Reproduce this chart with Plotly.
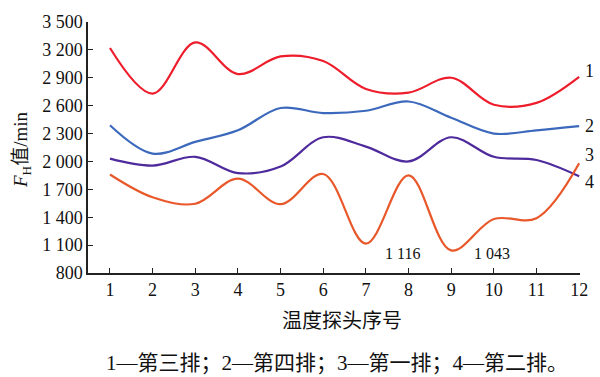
import plotly.graph_objects as go

probe = list(range(1, 13))
row3_s1 = [3220, 2730, 3280, 2940, 3130, 3080, 2780, 2740, 2900, 2610, 2630, 2910]
row4_s2 = [2390, 2085, 2210, 2335, 2575, 2520, 2545, 2645, 2470, 2300, 2335, 2380]
row1_s3 = [2030, 1955, 2050, 1875, 1945, 2260, 2160, 2000, 2260, 2050, 2015, 1840]
row2_s4 = [1860, 1615, 1545, 1815, 1540, 1865, 1116, 1850, 1043, 1380, 1390, 1980]

ytick_vals = [800, 1100, 1400, 1700, 2000, 2300, 2600, 2900, 3200, 3500]
ytick_text = ["800", "1 100", "1 400", "1 700", "2 000", "2 300", "2 600", "2 900", "3 200", "3 500"]

series = [
    (row3_s1, "#EE1D2B", "1"),
    (row4_s2, "#3C69BC", "2"),
    (row1_s3, "#4E2A9C", "3"),
    (row2_s4, "#E8582A", "4"),
]

FONT = "Liberation Serif, Times New Roman, Noto Sans CJK SC, serif"
CJK = "Liberation Serif, Noto Sans CJK SC, serif"

fig = go.Figure()
for vals, col, name in series:
    fig.add_trace(go.Scatter(x=probe, y=vals, mode="lines", name=name,
                             line=dict(color=col, width=2.2, shape="spline", smoothing=1.0),
                             showlegend=False, hoverinfo="skip"))

label_y = {"1": 2975, "2": 2380, "3": 2070, "4": 1780}
for name, yv in label_y.items():
    fig.add_annotation(xref="paper", x=1.019, y=yv, text=name, showarrow=False,
                       xanchor="center", yanchor="middle",
                       font=dict(family=FONT, size=18, color="#111"))

fig.add_annotation(x=7.87, y=1012, text="1 116", showarrow=False, yanchor="middle",
                   font=dict(family=FONT, size=16, color="#111"))
fig.add_annotation(x=9.95, y=1012, text="1 043", showarrow=False, yanchor="middle",
                   font=dict(family=FONT, size=16, color="#111"))

fig.add_annotation(xref="paper", yref="paper", x=0.516, y=-0.19, text="温度探头序号",
                   xanchor="center", yanchor="middle",
                   showarrow=False, font=dict(family=CJK, size=20, color="#111"))
fig.add_annotation(xref="paper", yref="paper", x=0.507, y=-0.357,
                   text="1—第三排；2—第四排；3—第一排；4—第二排。",
                   xanchor="center", yanchor="middle",
                   showarrow=False, font=dict(family=CJK, size=21, color="#111"))
fig.add_annotation(xref="paper", yref="paper", x=-0.134, y=0.49, textangle=-90,
                   text="<i>F</i><sub>H</sub>值/min", xanchor="center", yanchor="middle",
                   showarrow=False, font=dict(family=CJK, size=19, color="#111"))

fig.update_layout(
    width=600, height=377,
    margin=dict(l=88, r=20, t=15, b=104),
    paper_bgcolor="white", plot_bgcolor="white",
    font=dict(family=FONT, size=18, color="#111"),
    xaxis=dict(range=[0.485, 12.02], tickvals=probe, ticks="inside", ticklen=5,
               showline=True, linecolor="#222", linewidth=1.5, tickcolor="#222",
               showgrid=False, zeroline=False, tickfont=dict(size=18)),
    yaxis=dict(range=[800, 3500], tickvals=ytick_vals, ticktext=ytick_text,
               ticks="inside", ticklen=5, showline=True, linecolor="#222", linewidth=1.5,
               tickcolor="#222", showgrid=False, zeroline=False, tickfont=dict(size=18)),
)

fig.write_html("out.html", config={"displayModeBar": False},
               post_script="document.body.style.margin='0';document.body.style.overflow='hidden';")
